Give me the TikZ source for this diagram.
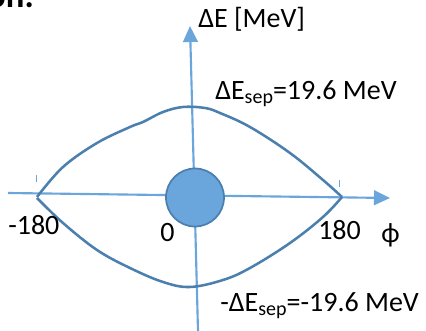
\documentclass[tikz,border=0pt]{standalone}
\usepackage{fontspec}
\setmainfont{Carlito}
\usetikzlibrary{arrows.meta}
\definecolor{axisblue}{HTML}{6AA6DB}
\definecolor{sepblue}{HTML}{4A7FAE}
\definecolor{dotfill}{HTML}{6AA6DB}
\tikzset{
  axis/.style={draw=axisblue, line width=1.6pt, -{Triangle[length=12pt,width=11pt]}},
  tickmark/.style={draw=axisblue, line width=0.7pt},
  sepline/.style={draw=sepblue, line width=1.9pt},
  lbl/.style={anchor=base west, inner sep=0pt, font=\fontsize{21}{25}\selectfont},
}
\newcommand{\subsep}{\raisebox{-0.25ex}{\fontsize{15}{15}\selectfont sep}}
\begin{document}
\begin{tikzpicture}[x=0.75pt,y=-0.75pt]
\useasboundingbox (0,0) rectangle (426,331);
\clip (0,0) rectangle (426,331);
% fragment of title text
\node[anchor=base east, inner sep=0pt, font=\fontsize{26}{30}\selectfont\bfseries] (title) at (34,8) {on.};
% axes
\coordinate (hstart) at (8,193);
\coordinate (htip) at (390,198);
\coordinate (vstart) at (198,331);
\coordinate (vtip) at (190,26);
\draw[axis] (hstart) -- (htip);
\draw[axis] (vstart) -- (vtip);
% ticks
\coordinate (tl1) at (36,175); \coordinate (tl2) at (36,182);
\coordinate (tr1) at (339,180); \coordinate (tr2) at (339,187);
\draw[tickmark] (tl1) -- (tl2);
\draw[tickmark] (tr1) -- (tr2);
% separatrix
\draw[sepline] plot[smooth, tension=0.6] coordinates {
 (37,197) (63,167) (97,143) (130,127) (143,122) (163,112) (183,107) (205,108)
 (220,113) (250,127) (290,153) (323,180) (342,197)};
\draw[sepline] plot[smooth, tension=0.6] coordinates {
 (37,198) (63,223) (97,250) (130,268) (163,282) (190,287)
 (223,280) (250,268) (290,243) (323,217) (342,197)};
% bunch
\node[circle, draw=sepblue, fill=dotfill, line width=1.3pt, minimum size=43.5pt, inner sep=0pt] (bunch) at (195,197.5) {};
% labels
\node[lbl] (ylab) at (198,28) {ΔE [MeV]};
\node[lbl] (sepp) at (215,100) {ΔE\subsep=19.6 MeV};
\node[lbl] (sepm) at (220,312) {-ΔE\subsep=-19.6 MeV};
\node[lbl] (m180) at (8,235) {-180};
\node[lbl] (zero) at (160,242) {0};
\node[lbl] (p180) at (318,240) {180};
\node[lbl] (phi) at (381,243) {ϕ};
\end{tikzpicture}
\end{document}
